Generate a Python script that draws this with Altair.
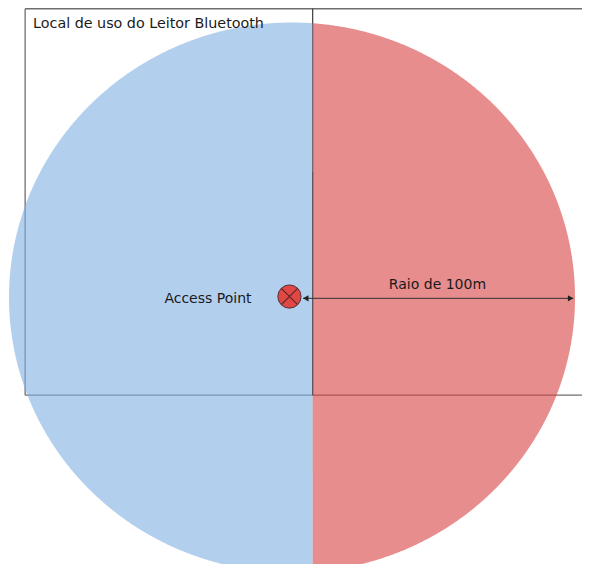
import altair as alt
import pandas as pd

# ---------------- data (metres) ----------------
RAIO_M = 100                      # coverage radius of the access point
WALL_X = 7.3                      # x of the interior wall
AP_X = [-0.9]
AP_Y = [0.35]

# outline of "Local de uso do Leitor Bluetooth" (segments)
room_x1 = [-94.3, -94.3, -94.3]
room_x2 = [115.0, -94.3, 115.0]
room_y1 = [105.0, 105.0, -35.5]
room_y2 = [105.0, -35.5, -35.5]

wall_y_top = [105.0]
wall_y_bottom = [-35.5]
wall_dark_top = [45.6]

arrow_x_start = [3.9]
arrow_x_end = [99.4]
arrow_y = [-0.3]

label_texts = ["Access Point", "Raio de 100m"]
label_x = [-29.7, 51.4]
label_y = [-0.6, 4.5]
title_text = ["Local de uso do Leitor Bluetooth"]
title_x = [-91.5]
title_y = [99.6]

# ---------------- layout ----------------
W, H = 574, 556
CX, CY = 284.0, 289.5          # pixel position of origin inside view
KX, KY = 2.83, 2.75            # pixels per metre
xs = alt.Scale(domain=[-CX / KX, (W - CX) / KX], nice=False, zero=False)
ys = alt.Scale(domain=[-(H - CY) / KY, CY / KY], nice=False, zero=False)

FONT = "DejaVu Sans"
TXT = "#1a1a1a"


def X(f):
    return alt.X(f, type="quantitative", scale=xs, axis=None)


def Y(f):
    return alt.Y(f, type="quantitative", scale=ys, axis=None)


room_df = pd.DataFrame({"x": room_x1, "x2": room_x2, "y": room_y1, "y2": room_y2})
wall_df = pd.DataFrame({"x": [WALL_X], "y": wall_y_top, "y2": wall_y_bottom})
wall_dark_df = pd.DataFrame({"x": [WALL_X], "y": wall_dark_top, "y2": wall_y_bottom})
arrow_df = pd.DataFrame({"x": arrow_x_start, "x2": arrow_x_end, "y": arrow_y})
ap_df = pd.DataFrame({"x": AP_X, "y": AP_Y})
lab_df = pd.DataFrame({"t": label_texts, "x": label_x, "y": label_y})
title_df = pd.DataFrame({"t": title_text, "x": title_x, "y": title_y})

room = alt.Chart(room_df).mark_rule(color="#6e6e6e", strokeWidth=1.3, clip=True).encode(
    x=X("x"), x2="x2", y=Y("y"), y2="y2"
)
wall = alt.Chart(wall_df).mark_rule(color="#3c3c3c", strokeWidth=1.2, clip=True).encode(
    x=X("x"), y=Y("y"), y2="y2"
)

seq = alt.sequence(0, 180.25, 0.25, as_="deg")
blue = (
    alt.Chart(seq)
    .transform_calculate(px=f"min({RAIO_M}*cos(datum.deg*PI/180), {WALL_X})")
    .transform_calculate(py=f"sqrt(max(0, {RAIO_M * RAIO_M} - datum.px*datum.px))")
    .transform_calculate(ny="-datum.py")
    .mark_area(color="#80AFE3", opacity=0.6, clip=True)
    .encode(x=X("px"), y=Y("py"), y2="ny:Q")
)
red = (
    alt.Chart(seq)
    .transform_calculate(px=f"max({RAIO_M}*cos(datum.deg*PI/180), {WALL_X})")
    .transform_calculate(py=f"sqrt(max(0, {RAIO_M * RAIO_M} - datum.px*datum.px))")
    .transform_calculate(ny="-datum.py")
    .mark_area(color="#D94141", opacity=0.6, clip=True)
    .encode(x=X("px"), y=Y("py"), y2="ny:Q")
)

wall_dark = alt.Chart(wall_dark_df).mark_rule(color="#3c3c3c", strokeWidth=1, opacity=0.45).encode(
    x=X("x"), y=Y("y"), y2="y2"
)

arrow = alt.Chart(arrow_df).mark_rule(color="#333333", strokeWidth=1).encode(
    x=X("x"), x2="x2", y=Y("y")
)
head_r = alt.Chart(arrow_df).mark_point(
    shape="triangle-right", filled=True, size=40, color="#222222", opacity=1, xOffset=-2.7
).encode(x=X("x2"), y=Y("y"))
head_l = alt.Chart(arrow_df).mark_point(
    shape="triangle-left", filled=True, size=40, color="#222222", opacity=1, xOffset=2.7
).encode(x=X("x"), y=Y("y"))

ap_circle = alt.Chart(ap_df).mark_point(
    shape="circle", filled=True, size=540, fill="#E04848", stroke="#553333",
    strokeWidth=1, opacity=1, fillOpacity=1, strokeOpacity=1
).encode(x=X("x"), y=Y("y"))
ap_x1 = alt.Chart(ap_df).mark_point(
    shape="stroke", size=530, angle=45, color="#552222", strokeWidth=1, opacity=1
).encode(x=X("x"), y=Y("y"))
ap_x2 = alt.Chart(ap_df).mark_point(
    shape="stroke", size=530, angle=135, color="#552222", strokeWidth=1, opacity=1
).encode(x=X("x"), y=Y("y"))

labels = alt.Chart(lab_df).mark_text(
    font=FONT, fontSize=14, color=TXT, align="center", baseline="middle"
).encode(x=X("x"), y=Y("y"), text="t:N")
title = alt.Chart(title_df).mark_text(
    font=FONT, fontSize=14.3, color=TXT, align="left", baseline="middle"
).encode(x=X("x"), y=Y("y"), text="t:N")

chart = (
    alt.layer(room, wall, blue, red, wall_dark, arrow, head_r, head_l,
              ap_circle, ap_x1, ap_x2, labels, title)
    .properties(width=W, height=H, padding=0, autosize=alt.AutoSizeParams(type="none"),
                background="white")
    .configure_view(stroke=None)
)

chart.save("out.html", embed_options={"renderer": "svg", "actions": False})
